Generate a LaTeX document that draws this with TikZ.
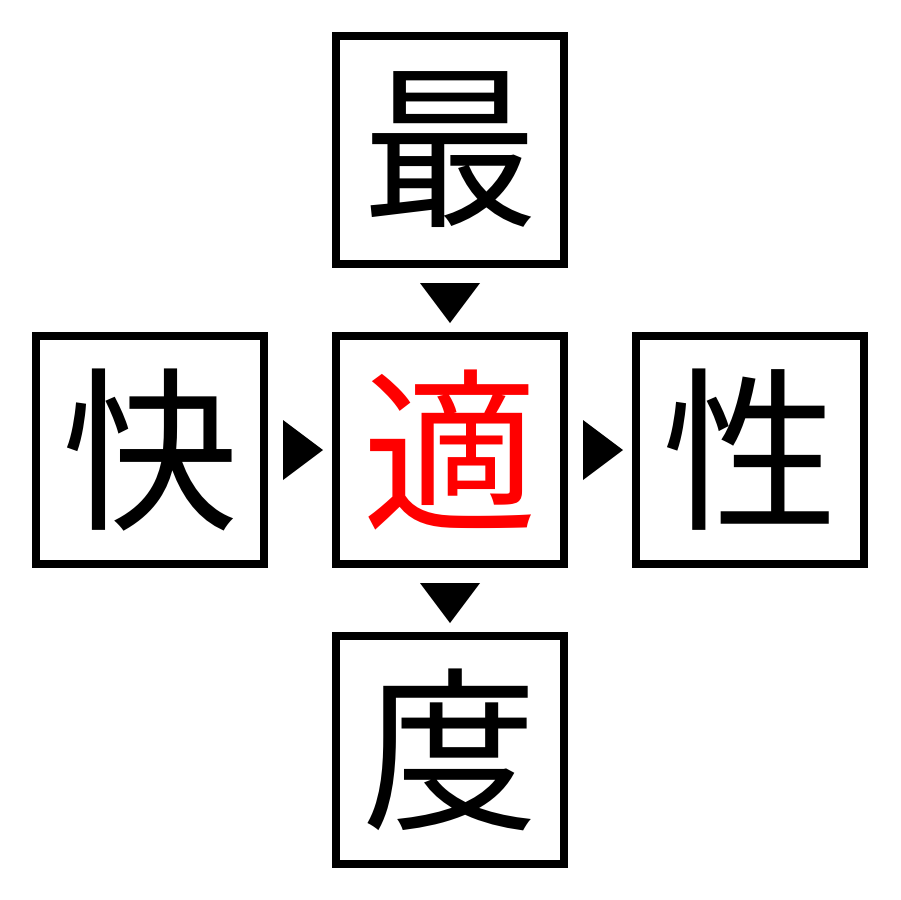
\documentclass[tikz,border=0pt]{standalone}
\usepackage{fontspec}
\newfontfamily\cjk{Noto Sans CJK JP}
\begin{document}
\begin{tikzpicture}[x=0.02cm,y=-0.02cm,
  box/.style={draw=black,line width=0.16cm,minimum size=4.56cm,inner sep=0pt,font=\cjk\fontsize{100}{100}\selectfont},
  tri/.style={fill=black}]
\useasboundingbox (0,0) rectangle (900,900);
\node[box] (t) at (450,150) {最};
\node[box,text=red] (c) at (450,450) {適};
\node[box] (l) at (150,450) {快};
\node[box] (r) at (750,450) {性};
\node[box] (b) at (450,750) {度};
\fill[tri] (420,283) -- (480,283) -- (450,323) -- cycle;
\fill[tri] (420,583) -- (480,583) -- (450,623) -- cycle;
\fill[tri] (283,420) -- (283,480) -- (323,450) -- cycle;
\fill[tri] (583,420) -- (583,480) -- (623,450) -- cycle;
\end{tikzpicture}
\end{document}
